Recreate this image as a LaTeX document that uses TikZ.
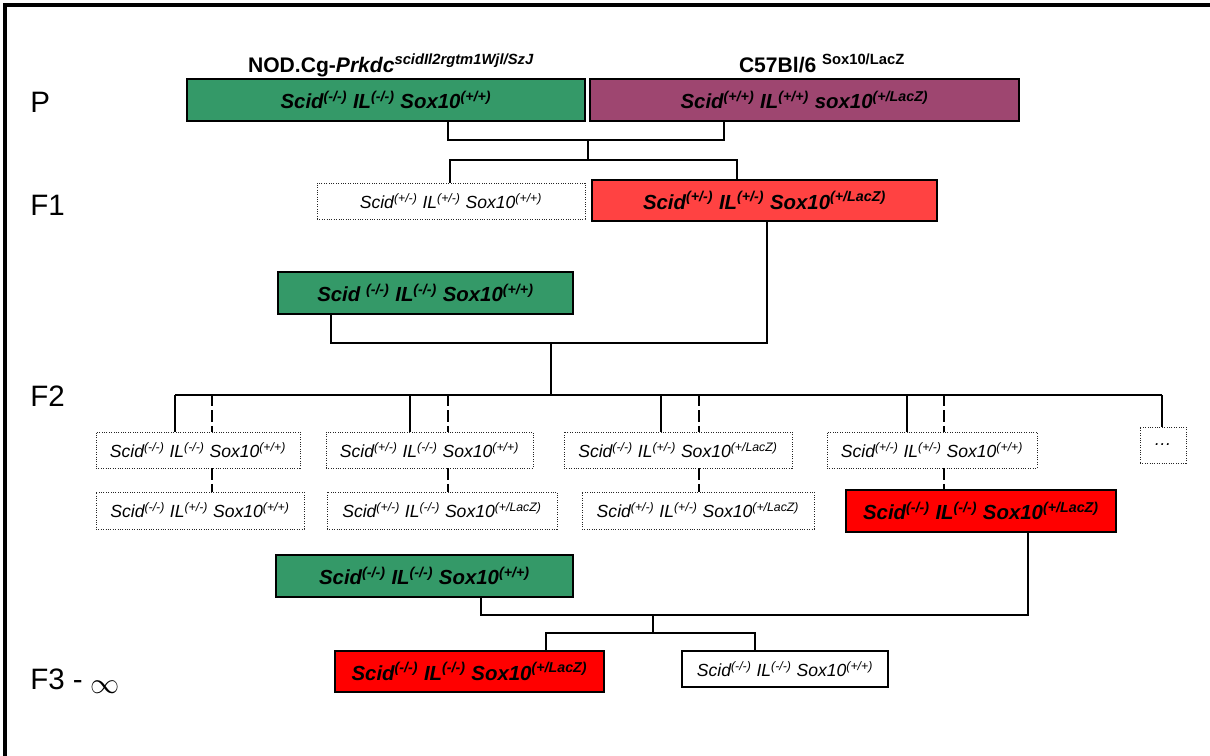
\documentclass[tikz,border=0pt]{standalone}
\usepackage{fontspec}
\setmainfont{Liberation Sans}
\usepackage{tikz}
\usetikzlibrary{positioning}
\definecolor{micegreen}{RGB}{52,153,104}
\definecolor{miceplum}{RGB}{158,70,112}
\definecolor{micered}{RGB}{255,66,66}
\definecolor{mutred}{RGB}{255,0,0}
\newcommand{\allele}[1]{\textsuperscript{(#1)}}

\begin{document}
\begin{tikzpicture}[
  x=0.025cm, y=-0.025cm,
  wh/.style 2 args={minimum width=#1*0.025cm, minimum height=#2*0.025cm},
  box/.style={draw, rectangle, inner sep=0pt, line width=1.5pt, font=\fontsize{14.5}{16}\selectfont\bfseries\itshape},
  dbox/.style={draw=black!85, densely dotted, rectangle, inner sep=0pt, line width=0.7pt, font=\fontsize{12.5}{15}\selectfont\itshape},
  wbox/.style={draw, rectangle, inner sep=0pt, line width=0.9pt, font=\fontsize{12.5}{15}\selectfont\itshape},
  strain/.style={font=\fontsize{15}{18}\selectfont\bfseries, inner sep=0pt, anchor=base},
  gen/.style={font=\fontsize{21}{24}\selectfont, inner sep=0pt, anchor=west},
  heavy/.style={line width=2.1pt},
  light/.style={line width=1pt},
  dashy/.style={light, dash pattern=on 8pt off 3pt},
]

% ============ Frame ============
\useasboundingbox (0,0) rectangle (1210,756);
\draw[line width=2.2pt] (1210,5) -- (5,5) -- (5,756);

% ============ Generation labels ============
\node[gen] (lP) at (30,102) {P};
\node[gen] (lF1) at (30,205) {F1};
\node[gen] (lF2) at (30,396) {F2};
\node[gen] (lF3) at (30,681) {F3 - \raisebox{-2.5pt}{\fontsize{21}{24}\selectfont$\infty$}};

% ============ P: parental strains ============
\node[strain] (sA) at (391,72) {NOD.Cg-\textit{Prkdc\textsuperscript{scidIl2rgtm1Wjl/SzJ}}};
\node[strain] (sB) at (822,72) {C57Bl/6~\textsuperscript{Sox10/LacZ}};
\node[box, fill=micegreen, wh={398}{42}] (pA) at (386,100) {Scid\allele{-/-} IL\allele{-/-} Sox10\allele{+/+}};
\node[box, fill=miceplum, wh={429}{42}] (pB) at (804.5,100) {Scid\allele{+/+} IL\allele{+/+} sox10\allele{+/LacZ}};

% ============ F1 ============
\node[dbox, wh={268}{36}] (f1a) at (451,201) {Scid\allele{+/-} IL\allele{+/-} Sox10\allele{+/+}};
\node[box, fill=micered, wh={345}{41}] (f1b) at (764.5,200.5) {Scid\allele{+/-} IL\allele{+/-} Sox10\allele{+/LacZ}};

% ============ F2 backcross parent ============
\node[box, fill=micegreen, wh={295}{42}] (f2p) at (425.5,293) {Scid \allele{-/-} IL\allele{-/-} Sox10\allele{+/+}};

% ============ F2 offspring (upper row) ============
\node[dbox, wh={204}{36}] (c1) at (198,450) {Scid\allele{-/-} IL\allele{-/-} Sox10\allele{+/+}};
\node[dbox, wh={207}{36}] (c2) at (429.5,450) {Scid\allele{+/-} IL\allele{-/-} Sox10\allele{+/+}};
\node[dbox, wh={228}{36}] (c3) at (678,450) {Scid\allele{-/-} IL\allele{+/-} Sox10\allele{+/LacZ}};
\node[dbox, wh={210}{36}] (c4) at (932,450) {Scid\allele{+/-} IL\allele{+/-} Sox10\allele{+/+}};
\node[dbox, wh={46}{36}] (c5) at (1163,445) {\ldots};

% ============ F2 offspring (lower row) ============
\node[dbox, wh={208}{37}] (d1) at (200,510.5) {Scid\allele{-/-} IL\allele{+/-} Sox10\allele{+/+}};
\node[dbox, wh={230}{37}] (d2) at (442,510.5) {Scid\allele{+/-} IL\allele{-/-} Sox10\allele{+/LacZ}};
\node[dbox, wh={232}{37}] (d3) at (698,510.5) {Scid\allele{+/-} IL\allele{+/-} Sox10\allele{+/LacZ}};
\node[box, fill=mutred, wh={270}{42}] (d4) at (981,511) {Scid\allele{-/-} IL\allele{-/-} Sox10\allele{+/LacZ}};

% ============ F3 - inf ============
\node[box, fill=micegreen, wh={297}{42}] (f3p) at (424.5,576) {Scid\allele{-/-} IL\allele{-/-} Sox10\allele{+/+}};
\node[box, fill=mutred, wh={269}{41}] (f3a) at (469.5,671.5) {Scid\allele{-/-} IL\allele{-/-} Sox10\allele{+/LacZ}};
\node[wbox, wh={206}{36}] (f3b) at (785,669) {Scid\allele{-/-} IL\allele{-/-} Sox10\allele{+/+}};

% ===================== CONNECTORS =====================

% P cross -> F1
\coordinate (m1L) at (448,140);
\coordinate (m1R) at (724,140);
\coordinate (m1) at (588,140);
\coordinate (m1b) at (588,160);
\coordinate (u1L) at (450,160);
\coordinate (u1R) at (737,160);
\draw[heavy] (pA.south -| m1L) -- (m1L) -- (m1R) -- (pB.south -| m1R);
\draw[heavy] (m1) -- (m1b);
\draw[light] (m1b) -- (u1L) -- (f1a.north -| u1L);
\draw[heavy] (m1b) -- (u1R) -- (f1b.north -| u1R);

% F1 x backcross parent -> F2 bus
\coordinate (m2L) at (331,343);
\coordinate (m2R) at (767,343);
\coordinate (m2) at (551,343);
\coordinate (bus) at (551,395);
\draw[heavy] (f2p.south -| m2L) -- (m2L) -- (m2R) -- (f1b.south -| m2R);
\draw[heavy] (m2) -- (bus);

% F2 bus taps
\coordinate (t1) at (175,395);
\coordinate (t1d) at (212,395);
\coordinate (t2) at (410,395);
\coordinate (t2d) at (448,395);
\coordinate (t3) at (661,395);
\coordinate (t3d) at (699,395);
\coordinate (t4) at (907,395);
\coordinate (t4d) at (944,395);
\coordinate (t5) at (1162,395);
\draw[light] (t1) -- (bus);
\draw[heavy] (bus) -- (t4d);
\draw[light] (t4d) -- (t5);

% solid drops to the upper row, dashed ones on to the lower row
\draw[light] (t1) -- (c1.north -| t1);
\draw[dashy] (t1d) -- (c1.north -| t1d);
\draw[dashy] (c1.south -| t1d) -- (d1.north -| t1d);
\draw[light] (t2) -- (c2.north -| t2);
\draw[dashy] (t2d) -- (c2.north -| t2d);
\draw[dashy] (c2.south -| t2d) -- (d2.north -| t2d);
\draw[light] (t3) -- (c3.north -| t3);
\draw[dashy] (t3d) -- (c3.north -| t3d);
\draw[dashy] (c3.south -| t3d) -- (d3.north -| t3d);
\draw[light] (t4) -- (c4.north -| t4);
\draw[heavy, dash pattern=on 8pt off 3pt] (t4d) -- (c4.north -| t4d);
\draw[heavy, dash pattern=on 8pt off 3pt] (c4.south -| t4d) -- (d4.north -| t4d);
\draw[light] (t5) -- (c5.north -| t5);

% selected F2 x backcross parent -> F3
\coordinate (m3L) at (481,615);
\coordinate (m3R) at (1028,615);
\coordinate (m3) at (653,615);
\coordinate (m3b) at (653,633);
\coordinate (u3L) at (546,633);
\coordinate (u3R) at (755,633);
\draw[heavy] (f3p.south -| m3L) -- (m3L) -- (m3R) -- (d4.south -| m3R);
\draw[heavy] (m3) -- (m3b);
\draw[heavy] (m3b) -- (u3L) -- (f3a.north -| u3L);
\draw[light] (m3b) -- (u3R) -- (f3b.north -| u3R);

\end{tikzpicture}
\end{document}
